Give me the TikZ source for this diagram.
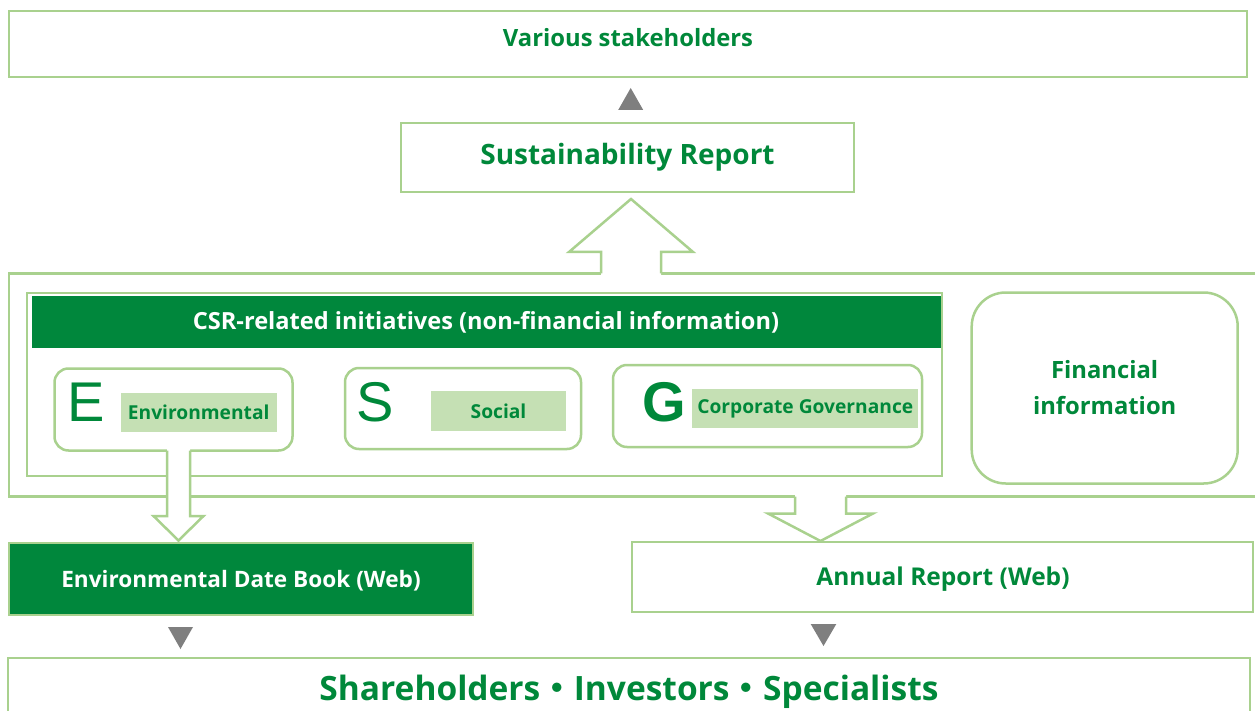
\documentclass[tikz,border=0pt]{standalone}
\usepackage{fontspec}
\setmainfont{Open Sans}
\newfontfamily\letterfont{Liberation Sans}
\newfontfamily\cjkfont{Noto Sans CJK JP}
\usetikzlibrary{calc}

\definecolor{dkgreen}{HTML}{00873C}
\definecolor{txtgreen}{HTML}{00883A}
\definecolor{lineGreen}{HTML}{A9D18E}
\definecolor{labelfill}{HTML}{C5E0B4}
\definecolor{triGray}{HTML}{7F7F7F}

\begin{document}
\begin{tikzpicture}[x=1pt,y=-1pt,
  frame/.style={draw=lineGreen, line width=2.5pt, fill=white, inner sep=0pt},
  roundframe/.style={frame, rounded corners=14pt},
  greentext/.style={font=\bfseries, text=txtgreen},
  darkbox/.style={fill=dkgreen, text=white, font=\bfseries, inner sep=0pt},
  tag/.style={fill=labelfill, text=txtgreen, font=\bfseries\fontsize{19.2}{22}\selectfont, inner sep=0pt},
  bigletter/.style={text=txtgreen, font=\letterfont\fontsize{56}{60}\selectfont, inner sep=0pt},
  hollow/.style={draw=lineGreen, line width=2.5pt, line join=miter},
  tri/.style={fill=triGray}
]
\useasboundingbox (0,0) rectangle (1255,711);

% audience boxes
\node[frame, minimum width=1238pt, minimum height=66pt] (stake) at (628,44) {};
\node[greentext, font=\bfseries\fontsize{23.8}{26}\selectfont] (stakeT) at (628,38) {Various stakeholders};

\node[frame, minimum width=453pt, minimum height=69pt, greentext,
      font=\bfseries\fontsize{28}{30}\selectfont] (sust) at (627.5,157.5) {Sustainability Report};

% container of all disclosed information (open to the right)
\node[frame, minimum width=1262pt, minimum height=223.4pt] (outer) at (640,385) {};

% CSR block
\node[frame, minimum width=915pt, minimum height=183pt] (csr) at (484.7,384.4) {};
\node[darkbox, minimum width=909pt, minimum height=52pt,
      font=\bfseries\fontsize{23.6}{26}\selectfont] (csrhead) at (486,322) {CSR-related initiatives (non-financial information)};

% E / S / G
\node[roundframe, minimum width=238pt, minimum height=82pt] (ebox) at (173.5,409.5) {};
\node[bigletter] (eL) at (86,402) {E};
\node[tag, minimum width=156pt, minimum height=39pt] (eT) at (198.7,412) {Environmental};

\node[roundframe, minimum width=236pt, minimum height=81pt] (sbox) at (463,408.5) {};
\node[bigletter] (sL) at (375.5,402) {S};
\node[tag, minimum width=135pt, minimum height=39.5pt] (sT) at (498.5,411) {Social};

\node[roundframe, minimum width=309pt, minimum height=82pt] (gbox) at (767.5,406) {};
\node[bigletter, font=\letterfont\bfseries\fontsize{56}{60}\selectfont] (gL) at (664,402) {G};
\node[tag, minimum width=226pt, minimum height=39.5pt] (gT) at (805.3,408.7) {Corporate Governance};

% financial information
\node[frame, rounded corners=34pt, minimum width=266pt, minimum height=191pt,
      greentext, font=\bfseries\fontsize{23.8}{36}\selectfont, align=center] (fin) at (1104.7,388) {Financial\\information};

% reports
\node[darkbox, draw=lineGreen, line width=2.5pt, minimum width=464pt, minimum height=72pt,
      font=\bfseries\fontsize{22.6}{26}\selectfont] (edb) at (241,579.2) {};
\node[text=white, font=\bfseries\fontsize{22.6}{26}\selectfont] (edbT) at (241,581) {Environmental Date Book (Web)};
\node[frame, minimum width=621pt, minimum height=70pt] (ar) at (942.5,577) {};
\node[greentext, font=\bfseries\fontsize{24.5}{28}\selectfont] (arT) at (943,579.5) {Annual Report (Web)};

\node[frame, minimum width=1242pt, minimum height=70pt] (share) at (629,693) {};
\node[greentext, font=\bfseries\fontsize{33.5}{36}\selectfont] (shareT) at (629,692)
  {Shareholders{\cjkfont ・}Investors{\cjkfont ・}Specialists};

% hollow block arrow: outer container -> Sustainability Report
\coordinate (upTip) at (631,199);
\coordinate (upBase) at (631,273.3);
\fill[white] ($(upBase)+(-30,2)$) -- ($(upTip)+(-30,53)$) -- ($(upTip)+(-62,53)$) -- (upTip)
  -- ($(upTip)+(62,53)$) -- ($(upTip)+(30,53)$) -- ($(upBase)+(30,2)$) -- cycle;
\draw[hollow] ($(upBase)+(-30,0)$) -- ($(upTip)+(-30,53)$) -- ($(upTip)+(-62,53)$) -- (upTip)
  -- ($(upTip)+(62,53)$) -- ($(upTip)+(30,53)$) -- ($(upBase)+(30,0)$);

% hollow block arrow: E -> Environmental Date Book
\coordinate (eTop) at (178.5,450.7);
\coordinate (eTip) at (178.5,540.5);
\fill[white] ($(eTop)+(-11.5,-2)$) -- ($(eTip)+(-11.5,-24.5)$) -- ($(eTip)+(-25,-24.5)$) -- (eTip)
  -- ($(eTip)+(25,-24.5)$) -- ($(eTip)+(11.5,-24.5)$) -- ($(eTop)+(11.5,-2)$) -- cycle;
\draw[hollow] ($(eTop)+(-11.5,0)$) -- ($(eTip)+(-11.5,-24.5)$) -- ($(eTip)+(-25,-24.5)$) -- (eTip)
  -- ($(eTip)+(25,-24.5)$) -- ($(eTip)+(11.5,-24.5)$) -- ($(eTop)+(11.5,0)$);

% hollow block arrow: outer container -> Annual Report
\coordinate (rTop) at (820.5,496.7);
\coordinate (rTip) at (820.5,541);
\fill[white] ($(rTop)+(-25.5,-2)$) -- ($(rTip)+(-25.5,-27.5)$) -- ($(rTip)+(-52.5,-27.5)$) -- (rTip)
  -- ($(rTip)+(52.5,-27.5)$) -- ($(rTip)+(25.5,-27.5)$) -- ($(rTop)+(25.5,-2)$) -- cycle;
\draw[hollow] ($(rTop)+(-25.5,0)$) -- ($(rTip)+(-25.5,-27.5)$) -- ($(rTip)+(-52.5,-27.5)$) -- (rTip)
  -- ($(rTip)+(52.5,-27.5)$) -- ($(rTip)+(25.5,-27.5)$) -- ($(rTop)+(25.5,0)$);

% small grey pointers
\coordinate (upPt) at (630.7,88);
\fill[tri] (upPt) -- ($(upPt)+(12.5,22)$) -- ($(upPt)+(-12.5,22)$) -- cycle;
\coordinate (dnL) at (180.5,649);
\fill[tri] (dnL) -- ($(dnL)+(12.5,-22)$) -- ($(dnL)+(-12.5,-22)$) -- cycle;
\coordinate (dnR) at (823.5,646);
\fill[tri] (dnR) -- ($(dnR)+(12.8,-22)$) -- ($(dnR)+(-12.8,-22)$) -- cycle;
\end{tikzpicture}
\end{document}
